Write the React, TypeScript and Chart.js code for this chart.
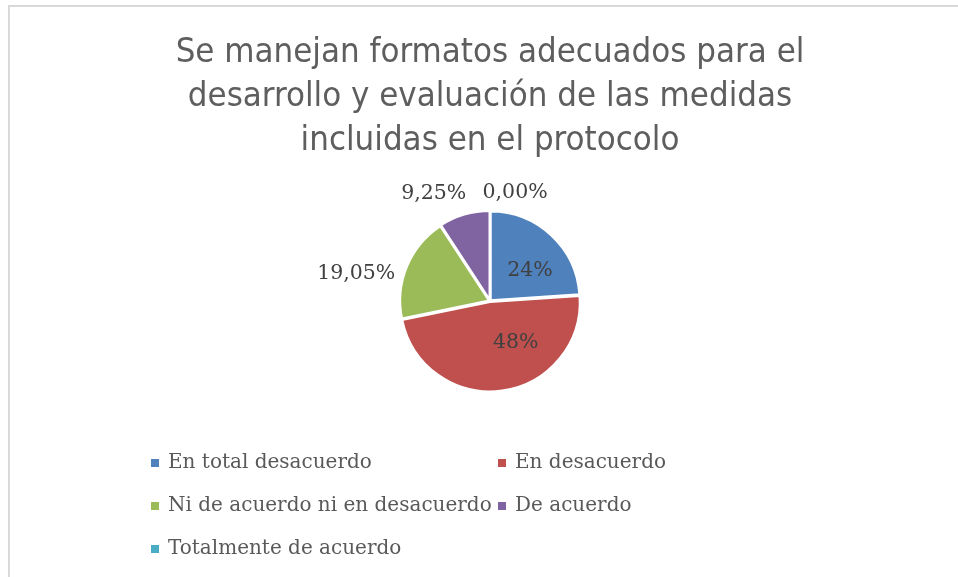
import React, { useEffect, useRef } from "react";
import { Chart, registerables } from "chart.js";

Chart.register(...registerables);

const titleLines = [
  "Se manejan formatos adecuados para el",
  "desarrollo y evaluación de las medidas",
  "incluidas en el protocolo",
];
const categories = [
  "En total desacuerdo",
  "En desacuerdo",
  "Ni de acuerdo ni en desacuerdo",
  "De acuerdo",
  "Totalmente de acuerdo",
];
const values = [24, 48, 19.05, 9.25, 0];
const valueLabels = ["24%", "48%", "19,05%", "9,25%", "0,00%"];
const colors = ["#4F81BD", "#C0504D", "#9BBB59", "#8064A2", "#4BACC6"];

// label placement style (angle shift in degrees from slice middle, radius factor)
const labelAngleShift = [10, -24, -11, -11, 13];
const labelRadiusFactor = [0.56, 0.55, 1.53, 1.36, 1.25];

const TITLE_FONT = "34.5px 'Liberation Sans Narrow', 'DejaVu Sans Condensed', sans-serif";
const DATA_FONT = "20.5px 'DejaVu Serif', serif";
const LEGEND_FONT = "20px 'DejaVu Serif', serif";

const titlePlugin = {
  id: "excelTitle",
  afterDraw(chart: any) {
    const ctx = chart.ctx;
    const area = chart.chartArea;
    const cx = (area.left + area.right) / 2;
    ctx.save();
    ctx.font = TITLE_FONT;
    ctx.fillStyle = "#5e5e5e";
    ctx.textAlign = "center";
    ctx.textBaseline = "middle";
    const ys = [53, 97, 141];
    titleLines.forEach((t, i) => ctx.fillText(t, cx, ys[i]));
    ctx.restore();
  },
};

const labelPlugin = {
  id: "sliceLabels",
  afterDatasetsDraw(chart: any) {
    const ctx = chart.ctx;
    const meta = chart.getDatasetMeta(0);
    ctx.save();
    ctx.font = DATA_FONT;
    ctx.fillStyle = "#404040";
    ctx.textAlign = "center";
    ctx.textBaseline = "middle";
    meta.data.forEach((arc: any, i: number) => {
      const p = arc.getProps(["x", "y", "startAngle", "endAngle", "outerRadius"], true);
      const mid = (p.startAngle + p.endAngle) / 2 + (labelAngleShift[i] * Math.PI) / 180;
      const r = p.outerRadius * labelRadiusFactor[i];
      ctx.fillText(valueLabels[i], p.x + Math.cos(mid) * r, p.y + Math.sin(mid) * r);
    });
    ctx.restore();
  },
};

const legendPlugin = {
  id: "gridLegend",
  afterDraw(chart: any) {
    const ctx = chart.ctx;
    const labels = chart.data.labels as string[];
    const bg = chart.data.datasets[0].backgroundColor as string[];
    const colX = [151, 498];
    const rowY = [463, 506, 549];
    ctx.save();
    ctx.font = LEGEND_FONT;
    ctx.textAlign = "left";
    ctx.textBaseline = "middle";
    labels.forEach((lab, i) => {
      const x = colX[i % 2];
      const y = rowY[Math.floor(i / 2)];
      ctx.fillStyle = bg[i];
      ctx.fillRect(x, y - 4, 8, 8);
      ctx.fillStyle = "#595959";
      ctx.fillText(lab, x + 17, y);
    });
    ctx.restore();
  },
};

export default function App() {
  const ref = useRef<HTMLCanvasElement | null>(null);
  useEffect(() => {
    if (!ref.current) return;
    const chart = new Chart(ref.current, {
      type: "pie",
      data: {
        labels: categories,
        datasets: [
          {
            data: values,
            backgroundColor: colors,
            borderColor: "#ffffff",
            borderWidth: 2.5,
            offset: 3,
          },
        ],
      },
      options: {
        responsive: false,
        animation: false,
        devicePixelRatio: 1,
        layout: { padding: { left: 398, right: 376, top: 209, bottom: 184 } },
        plugins: {
          legend: { display: false },
          title: { display: false },
          tooltip: { enabled: false },
        },
      },
      plugins: [titlePlugin, labelPlugin, legendPlugin],
    });
    return () => chart.destroy();
  }, []);

  return (
    <div style={{ position: "absolute", left: 0, top: 0, width: 958, height: 577, overflow: "hidden", background: "#fff" }}>
      <div
        style={{
          position: "absolute",
          left: 8,
          top: 5,
          width: 980,
          height: 600,
          borderTop: "2px solid #d9d9d9",
          borderLeft: "2px solid #d9d9d9",
        }}
      />
      <canvas ref={ref} width={958} height={577} style={{ position: "absolute", left: 0, top: 0, display: "block" }} />
    </div>
  );
}
